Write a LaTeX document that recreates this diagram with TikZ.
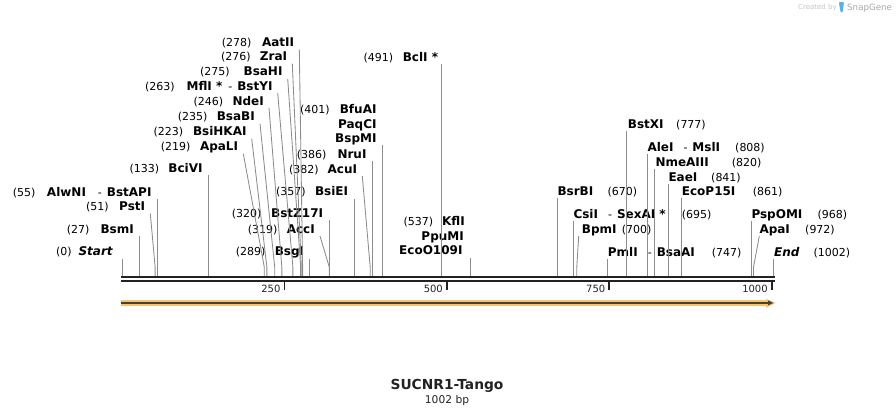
\documentclass[tikz,border=0pt]{standalone}
\usepackage{fontspec}
\setmainfont{DejaVu Sans}
\usetikzlibrary{calc}
\definecolor{cutgray}{HTML}{8C8C8C}
\definecolor{bbcol}{HTML}{222222}
\definecolor{featorange}{HTML}{F8C46A}
\definecolor{featdark}{HTML}{45403A}
\definecolor{sgblue}{HTML}{52B4EA}
\definecolor{wmlight}{HTML}{C4C4C4}
\definecolor{wmdark}{HTML}{A8A8A8}
\newcommand{\sgsep}[1][9pt]{\hspace{#1}{\mdseries\fontsize{11}{13}\selectfont -}\hspace{5pt}}
% left label: id, y, paren west x, name east x, paren text, name
\newcommand{\sgL}[6]{%
  \node[ptxt,anchor=west] (p#1) at (#3,#2) {(#5)};
  \node[ntxt,anchor=east] (n#1) at (#4,#2) {#6};}
% right label: id, y, name west x, paren west x, paren text, name
\newcommand{\sgR}[6]{%
  \node[ntxt,anchor=west] (n#1) at (#3,#2) {#6};
  \node[ptxt,anchor=west] (p#1) at (#4,#2) {(#5)};}
\begin{document}
\begin{tikzpicture}[x=1pt,y=-1pt,
  ntxt/.style={inner sep=0pt, text height=8pt, text depth=0pt, font=\fontsize{12}{14}\selectfont\bfseries},
  ptxt/.style={inner sep=0pt, text height=8pt, text depth=0pt, font=\fontsize{11}{13}\selectfont},
  cut/.style={draw=cutgray, line width=0.85pt},
  backbone/.style={draw=bbcol},
  tickmark/.style={draw=bbcol, line width=1.8pt},
  ticklab/.style={inner sep=0pt, text height=7.3pt, text depth=0pt, font=\fontsize{10}{12}\selectfont, text=bbcol}]
\useasboundingbox (0,0) rectangle (896,415);

% site coordinates on the backbone
\foreach \p in {0,27,51,55,133,219,223,235,246,263,275,276,278,289,319,320,357,382,386,401,491,537,670,695,700,747,777,808,820,841,861,968,972,1002}
  \coordinate (s\p) at ({122+\p*0.6497},276);

% ---- left-side labels ----
\sgL{0}{251.7}{56}{113.3}{0}{\textit{Start}}
\sgL{27}{229.3}{66.7}{134}{27}{BsmI}
\sgL{51}{206.7}{86}{145.3}{51}{PstI}
\sgL{55}{192.3}{12.7}{151.7}{55}{AlwNI\sgsep[12pt]BstAPI}
\sgL{133}{168.3}{129.3}{202.7}{133}{BciVI}
\sgL{219}{146.7}{160.7}{238.3}{219}{ApaLI}
\sgL{223}{131.7}{153.3}{246.7}{223}{BsiHKAI}
\sgL{235}{116.7}{177.7}{255}{235}{BsaBI}
\sgL{246}{101}{193.3}{264}{246}{NdeI}
\sgL{263}{86}{145}{272.7}{263}{MflI *\sgsep[6pt]BstYI}
\sgL{275}{71.7}{200}{282.7}{275}{BsaHI}
\sgL{276}{56.7}{221}{287.3}{276}{ZraI}
\sgL{278}{42.3}{221.7}{294.3}{278}{AatII}
\sgL{289}{251.7}{235.7}{304.3}{289}{BsgI}
\sgL{319}{229}{247.7}{315}{319}{AccI}
\sgL{320}{213.3}{231.7}{323.3}{320}{BstZ17I}
\sgL{357}{191.7}{276}{348.3}{357}{BsiEI}
\sgL{382}{169}{289}{357.3}{382}{AcuI}
\sgL{386}{154}{296.7}{366.7}{386}{NruI}
\sgL{401}{109}{300}{376.7}{401}{BfuAI}
\node[ntxt,anchor=east] (n401b) at (376.7,124) {PaqCI};
\node[ntxt,anchor=east] (n401c) at (376.7,138.3) {BspMI};
\sgL{491}{57.3}{363.3}{438.3}{491}{BclI *}
\sgL{537}{221.7}{403.3}{465}{537}{KflI}
\node[ntxt,anchor=east] (n537b) at (464,236) {PpuMI};
\node[ntxt,anchor=east] (n537c) at (462.7,250.7) {EcoO109I};

% ---- right-side labels ----
\sgR{670}{191.3}{557.3}{607.3}{670}{BsrBI}
\sgR{695}{214}{573.3}{681.7}{695}{CsiI\sgsep[10pt]SexAI *}
\sgR{700}{229}{581.7}{621.7}{700}{BpmI}
\sgR{747}{252.3}{607.7}{711.7}{747}{PmlI\sgsep[10pt]BsaAI}
\sgR{777}{124}{627.7}{676}{777}{BstXI}
\sgR{808}{147.3}{647.3}{735}{808}{AleI\sgsep[10pt]MslI}
\sgR{820}{162.3}{655.3}{731.7}{820}{NmeAIII}
\sgR{841}{177.3}{668.3}{711}{841}{EaeI}
\sgR{861}{191.3}{681.7}{752.7}{861}{EcoP15I}
\sgR{968}{214}{751.3}{817.3}{968}{PspOMI}
\sgR{972}{229}{759.3}{805}{972}{ApaI}
\sgR{1002}{252.3}{774}{813.3}{1002}{\textit{End}}

% ---- vertical cut lines ----
\foreach \i/\n in {0/0,27/27,55/55,133/133,289/289,320/320,357/357,386/386,401/401c,491/491,537/537c,670/670,695/695,747/747,777/777,808/808,820/820,841/841,861/861,968/968,1002/1002}
  \draw[cut] (s\i) -- ($(s\i |- n\n.center)+(0,7)$);

% ---- slanted cut lines (left labels) ----
\foreach \i in {51,219,223,235,246,263,275,276,278,319,382}
  \draw[cut] ($(n\i.east)+(5,7)$) -- ($(s\i)+(0,-9)$) -- (s\i);
% ---- slanted cut lines (right labels) ----
\draw[cut] ($(n700.west)+(-3,7)$) -- ($(s700)+(0,-9)$) -- (s700);
\draw[cut] ($(n972.west)+(0,7)$) -- ($(s972)+(0,-9)$) -- (s972);

% ---- backbone ----
\draw[backbone, line width=2.6pt] (121,276.9) -- (775,276.9);
\draw[backbone, line width=2.4pt] (121,281.2) -- (775,281.2);

% ---- ruler ticks ----
\foreach \t in {250,500,750,1000} {
  \coordinate (k\t) at ({122+\t*0.6497},282);
  \draw[tickmark] (k\t) -- ++(0,8);
  \node[ticklab, anchor=east] (kl\t) at ($(k\t)+(-3.8,7)$) {\t};
}

% ---- feature arrow ----
\fill[featorange] (121,300) rectangle (767,305.8);
\fill[featorange] (766.2,298.8) -- (775.5,303) -- (766.2,307.8) -- cycle;
\draw[featdark, line width=1.8pt] (121,302.9) -- (769,302.9);
\fill[featdark] (768,300.4) -- (773.4,302.9) -- (768,305.4) -- cycle;

% ---- title ----
\node[inner sep=0pt, text height=10pt, text depth=0pt, font=\fontsize{13.8}{16}\selectfont\bfseries, text=bbcol] (title) at (447,384) {SUCNR1-Tango};
\node[inner sep=0pt, text height=7.8pt, text depth=0pt, font=\fontsize{10.7}{13}\selectfont, text=bbcol] (len) at (447,399.2) {1002 bp};

% ---- watermark ----
\node[inner sep=0pt, anchor=west, text height=5pt, text depth=0pt, font=\fontsize{7}{8}\selectfont, text=wmlight] (wm1) at (798,7.3) {Created by};
\fill[sgblue, rounded corners=0.8pt] (838.8,2.2) -- (844,2.2) -- (842.6,12.2) -- (840.6,12.2) -- cycle;
\node[inner sep=0pt, anchor=west, text height=6.3pt, text depth=0pt, font=\fontsize{8.7}{10}\selectfont, text=wmdark] (wm2) at (847,7.3) {SnapGene};
\end{tikzpicture}
\end{document}
